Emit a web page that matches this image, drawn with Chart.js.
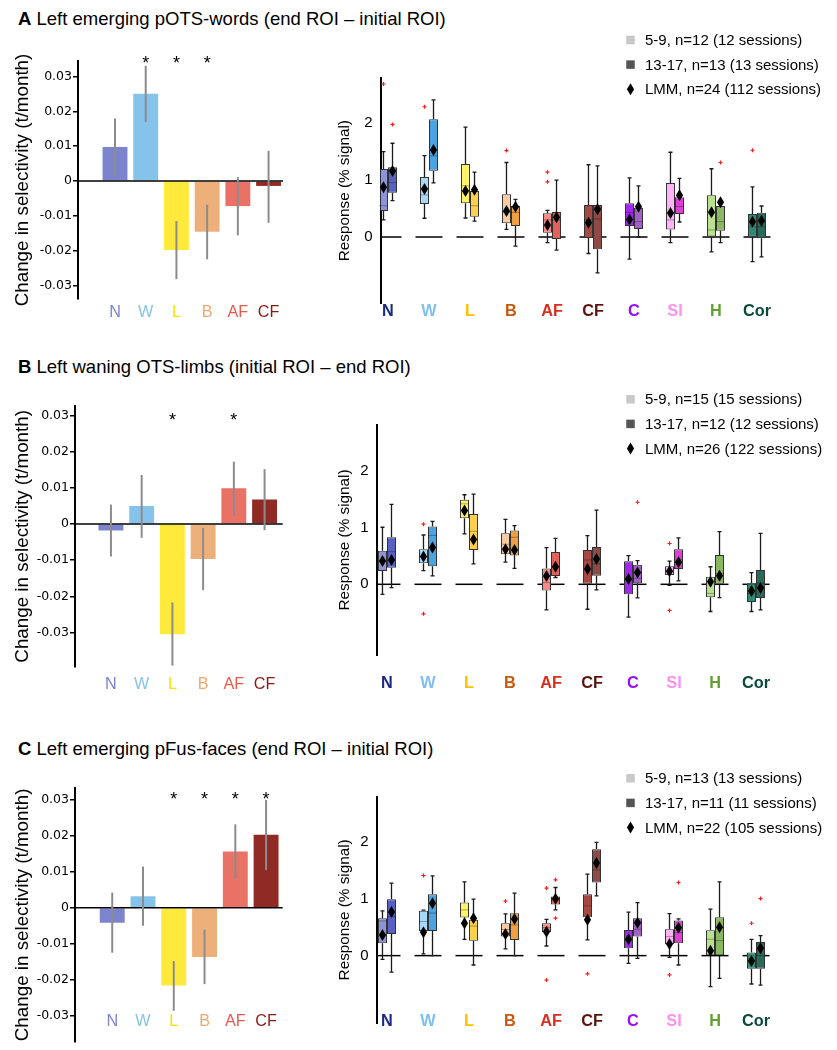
<!DOCTYPE html>
<html>
<head>
<meta charset="utf-8">
<title>Selectivity change and responses</title>
<script src="https://cdn.jsdelivr.net/npm/chart.js@4.4.1/dist/chart.umd.min.js"></script>
<style>
  body { margin: 0; background: #fff; }
  #page { position: relative; width: 837px; height: 1050px; overflow: hidden; font-family: "Liberation Sans", Arial, sans-serif; }
  .title { position: absolute; left: 18px; font-size: 18.5px; line-height: 22px; color: #000; white-space: nowrap; }
  canvas { position: absolute; }
</style>
</head>
<body>
<div id="page">
  <div class="title" style="top:8px"><b>A</b> Left emerging pOTS-words (end ROI – initial ROI)</div>
  <div class="title" style="top:356px"><b>B</b> Left waning OTS-limbs (initial ROI – end ROI)</div>
  <div class="title" style="top:738px"><b>C</b> Left emerging pFus-faces (end ROI – initial ROI)</div>
  <canvas id="barA"></canvas>
  <canvas id="boxA"></canvas>
  <canvas id="barB"></canvas>
  <canvas id="boxB"></canvas>
  <canvas id="barC"></canvas>
  <canvas id="boxC"></canvas>
</div>
<script>
// categories
const barCats = ["N", "W", "L", "B", "AF", "CF"];
const boxCats = ["N", "W", "L", "B", "AF", "CF", "C", "SI", "H", "Cor"];

// panel A - change in selectivity (t/month) with error range
const aSlope = [0.0098, 0.0251, -0.0198, -0.0146, -0.0072, -0.0014];
const aErrLo = [0.0012, 0.0170, -0.0282, -0.0225, -0.0156, -0.0120];
const aErrHi = [0.0180, 0.0331, -0.0115, -0.0068, 0.0011, 0.0087];
const aSig = [0, 1, 1, 1, 0, 0];
// boxes: [whisker low, q1, median, q3, whisker high]
const aYoung = [[0.30, 0.457, 0.55, 1.197, 1.50], [0.33, 0.58, 0.74, 1.056, 1.43], [0.334, 0.592, 0.90, 1.284, 1.93], [0.135, 0.24, 0.43, 0.75, 1.31], [-0.10, 0.076, 0.30, 0.416, 0.47],
  [-0.29, -0.018, 0.30, 0.563, 1.27], [-0.39, 0.194, 0.43, 0.592, 1.04], [-0.10, 0.13, 0.30, 0.95, 1.49], [-0.26, 0, 0.123, 0.733, 1.20], [-0.434, 0, 0.18, 0.405, 0.88]];
const aOld = [[0.64, 0.78, 0.956, 1.226, 1.648], [0.95, 1.167, 1.425, 2.07, 2.41], [0.28, 0.358, 0.55, 0.81, 1.14], [-0.16, 0.194, 0.43, 0.55, 0.66], [-0.23, -0.035, 0.30, 0.44, 1.0],
  [-0.63, -0.217, 0.317, 0.563, 1.25], [0, 0.14, 0.27, 0.516, 0.90], [0.264, 0.405, 0.534, 0.70, 1.03], [-0.10, 0.111, 0.27, 0.545, 0.60], [-0.35, -0.023, 0.18, 0.428, 0.545]];
const aYoungLmm = [0.874, 0.845, 0.81, 0.457, 0.21, 0.25, 0.31, 0.42, 0.434, 0.27];
const aOldLmm = [1.16, 1.53, 0.83, 0.53, 0.346, 0.487, 0.534, 0.733, 0.61, 0.287];
const aYoungOut = [[2.69], [2.29], [], [1.52], [1.14, 0.97], [], [], [], [], [1.525]];
const aOldOut = [[1.98], [], [], [], [], [], [], [], [1.31], []];
const aLegend = ["5-9, n=12 (12 sessions)", "13-17, n=13 (13 sessions)", "LMM, n=24 (112 sessions)"];

// panel B
const bSlope = [-0.0018, 0.0050, -0.0305, -0.0097, 0.0099, 0.0068];
const bErrLo = [-0.0090, -0.0038, -0.0392, -0.0183, 0.0023, -0.0017];
const bErrHi = [0.0054, 0.0136, -0.0217, -0.0011, 0.0173, 0.0152];
const bSig = [0, 0, 1, 0, 1, 0];
const bYoung = [[-0.176, 0.235, 0.41, 0.594, 1.006], [0.24, 0.37, 0.49, 0.618, 0.87], [0.89, 1.165, 1.42, 1.49, 1.58], [0.39, 0.53, 0.706, 0.90, 1.147], [-0.45, -0.11, 0.03, 0.28, 0.647],
  [-0.44, 0, 0.43, 0.606, 0.86], [-0.58, -0.176, 0.08, 0.406, 0.506], [-0.02, 0.165, 0.24, 0.318, 0.41], [-0.48, -0.23, -0.16, 0.135, 0.31], [-0.48, -0.31, -0.16, 0.018, 0.206]];
const bOld = [[-0.06, 0.294, 0.576, 0.83, 1.41], [0.15, 0.32, 0.86, 1.02, 1.11], [0.36, 0.606, 0.935, 1.24, 1.59], [0.28, 0.506, 0.83, 0.947, 1.035], [0.12, 0.147, 0.31, 0.57, 0.81],
  [-0.10, 0.153, 0.36, 0.66, 1.31], [-0.24, 0.018, 0.106, 0.347, 0.418], [0.06, 0.27, 0.43, 0.618, 0.82], [-0.235, 0, 0.19, 0.518, 0.93], [-0.45, -0.24, 0.02, 0.253, 0.90]];
const bYoungLmm = [0.41, 0.49, 1.30, 0.62, 0.147, 0.27, 0.094, 0.23, 0.047, -0.12];
const bOldLmm = [0.43, 0.65, 0.79, 0.606, 0.31, 0.447, 0.21, 0.39, 0.153, -0.065];
const bYoungOut = [[], [1.06, -0.52], [], [], [], [], [], [0.72, -0.46], [], []];
const bOldOut = [[], [], [], [], [], [], [1.447], [], [], []];
const bLegend = ["5-9, n=15 (15 sessions)", "13-17, n=12 (12 sessions)", "LMM, n=26 (122 sessions)"];

// panel C
const cSlope = [-0.0042, 0.0032, -0.0216, -0.0137, 0.0156, 0.0202];
const cErrLo = [-0.0125, -0.0050, -0.0286, -0.0212, 0.0080, 0.0104];
const cErrHi = [0.0042, 0.0114, -0.0148, -0.0061, 0.0231, 0.0299];
const cSig = [0, 0, 1, 1, 1, 1];
const cYoung = [[-0.065, 0.218, 0.61, 0.66, 0.79], [0.03, 0.435, 0.60, 0.79, 0.80], [0.288, 0.67, 0.806, 0.935, 1.30], [0.118, 0.335, 0.46, 0.57, 0.735], [0.17, 0.41, 0.494, 0.57, 0.64],
  [0.276, 0.676, 0.876, 1.08, 1.435], [-0.135, 0.13, 0.276, 0.453, 0.765], [-0.03, 0.20, 0.335, 0.465, 0.74], [-0.547, 0, 0.288, 0.447, 0.818], [-0.50, -0.23, -0.08, 0.053, 0.288]];
const cOld = [[-0.29, 0.38, 0.69, 0.994, 1.276], [0, 0.435, 0.75, 1.08, 1.406], [-0.165, 0.26, 0.52, 0.63, 0.994], [0, 0.276, 0.54, 0.747, 1.10], [0.806, 0.90, 0.98, 1.04, 1.20],
  [1.053, 1.288, 1.51, 1.876, 1.994], [-0.047, 0.335, 0.465, 0.66, 0.935], [-0.165, 0.218, 0.406, 0.62, 0.647], [-0.40, 0, 0.265, 0.676, 1.30], [-0.52, -0.23, 0, 0.24, 0.353]];
const cYoungLmm = [0.365, 0.41, 0.57, 0.38, 0.42, 0.63, 0.288, 0.206, 0.088, -0.094];
const cOldLmm = [0.77, 0.923, 0.66, 0.647, 1.0, 1.63, 0.58, 0.49, 0.50, 0.13];
const cYoungOut = [[], [1.41], [], [0.96], [1.19, -0.43], [-0.32], [], [-0.34], [], [0.57]];
const cOldOut = [[], [], [], [], [1.335, 0.66], [], [], [1.288], [], [1.006]];
const cLegend = ["5-9, n=13 (13 sessions)", "13-17, n=11 (11 sessions)", "LMM, n=22 (105 sessions)"];

// colours
const barColors = ["#7b84cc", "#86c3ea", "#ffe93b", "#eeb07a", "#ea7165", "#8f2a24"];
const barLabelColors = ["#7b84cc", "#86c3ea", "#ffe000", "#f0a870", "#e85a50", "#8a1a12"];
const youngColors = ["#8e94d6", "#a9d8f6", "#fff266", "#f9cba0", "#f58b84", "#a54a43", "#a228f0", "#ffb2f8", "#b8e08e", "#2d8a78"];
const oldColors = ["#5861c2", "#4ba3e0", "#fbd04c", "#f0a044", "#e0625a", "#8e4a44", "#a261c4", "#de40d6", "#8ab862", "#2a6a5a"];
const boxLabelColors = ["#1a2a80", "#80c0f0", "#ffc000", "#c85a10", "#d83020", "#5a1510", "#9a10f0", "#ff90f0", "#60a030", "#0a4a3a"];

// error bars, stars and zero line for the left charts
const errorBars = {
  id: "errorBars",
  afterDatasetsDraw(chart, args, opts) {
    const { ctx, chartArea } = chart;
    const y = chart.scales.y;
    const ds = chart.data.datasets[0];
    const meta = chart.getDatasetMeta(0);
    ctx.save();
    const y0 = y.getPixelForValue(0);
    ctx.strokeStyle = "#000";
    ctx.lineWidth = 1.5;
    ctx.beginPath();
    ctx.moveTo(chartArea.left, y0);
    ctx.lineTo(chartArea.right, y0);
    ctx.stroke();
    ctx.strokeStyle = "#8c8c8c";
    ctx.lineWidth = 2;
    meta.data.forEach((bar, i) => {
      ctx.beginPath();
      ctx.moveTo(bar.x, y.getPixelForValue(ds.errLo[i]));
      ctx.lineTo(bar.x, y.getPixelForValue(ds.errHi[i]));
      ctx.stroke();
    });
    ctx.fillStyle = "#000";
    ctx.font = '18px "Liberation Sans"';
    ctx.textAlign = "center";
    ctx.textBaseline = "alphabetic";
    meta.data.forEach((bar, i) => {
      if (ds.sig[i]) ctx.fillText("*", bar.x, y.getPixelForValue(opts.star) + 10.5);
    });
    ctx.restore();
  }
};

// whiskers, medians, outliers, LMM estimates and legend for the box charts
const boxParts = {
  id: "boxParts",
  beforeDatasetsDraw(chart) {
    const { ctx, chartArea, scales: { x, y } } = chart;
    ctx.save();
    const y0 = y.getPixelForValue(0);
    ctx.strokeStyle = "#000";
    ctx.lineWidth = 1.5;
    boxCats.forEach((c, i) => {
      const xc = x.getPixelForValue(i);
      ctx.beginPath();
      ctx.moveTo(Math.max(xc - 13.5, chartArea.left), y0);
      ctx.lineTo(xc + 13.5, y0);
      ctx.stroke();
    });
    ctx.strokeStyle = "#1a1a1a";
    ctx.lineWidth = 1.3;
    chart.data.datasets.forEach((ds, d) => {
      chart.getDatasetMeta(d).data.forEach((el, i) => {
        const s = ds.stats[i];
        ctx.beginPath();
        ctx.moveTo(el.x, y.getPixelForValue(s[0]));
        ctx.lineTo(el.x, y.getPixelForValue(s[1]));
        ctx.moveTo(el.x, y.getPixelForValue(s[3]));
        ctx.lineTo(el.x, y.getPixelForValue(s[4]));
        [s[0], s[4]].forEach(v => {
          const yy = y.getPixelForValue(v);
          ctx.moveTo(el.x - 2, yy);
          ctx.lineTo(el.x + 2, yy);
        });
        ctx.stroke();
      });
    });
    ctx.restore();
  },
  afterDatasetsDraw(chart) {
    const { ctx, scales: { y } } = chart;
    ctx.save();
    chart.data.datasets.forEach((ds, d) => {
      chart.getDatasetMeta(d).data.forEach((el, i) => {
        const s = ds.stats[i];
        const ym = y.getPixelForValue(s[2]);
        ctx.strokeStyle = "rgba(0,0,0,0.3)";
        ctx.lineWidth = 1;
        ctx.beginPath();
        ctx.moveTo(el.x - el.width / 2, ym);
        ctx.lineTo(el.x + el.width / 2, ym);
        ctx.stroke();
        ctx.strokeStyle = "#ff1a1a";
        ctx.lineWidth = 1.2;
        ds.out[i].forEach(v => {
          const yo = y.getPixelForValue(v);
          ctx.beginPath();
          ctx.moveTo(el.x - 2, yo); ctx.lineTo(el.x + 2, yo);
          ctx.moveTo(el.x, yo - 2); ctx.lineTo(el.x, yo + 2);
          ctx.stroke();
        });
        const yl = y.getPixelForValue(ds.lmm[i]);
        ctx.fillStyle = "#000";
        ctx.beginPath();
        ctx.moveTo(el.x, yl - 6);
        ctx.lineTo(el.x + 3.6, yl);
        ctx.lineTo(el.x, yl + 6);
        ctx.lineTo(el.x - 3.6, yl);
        ctx.closePath();
        ctx.fill();
      });
    });
    ctx.restore();
  },
  afterDraw(chart, args, opts) {
    const ctx = chart.ctx;
    ctx.save();
    ctx.font = '15px "Liberation Sans"';
    ctx.textAlign = "left";
    ctx.textBaseline = "middle";
    opts.text.forEach((t, k) => {
      const yy = opts.top + k * opts.gap;
      if (k < 2) {
        ctx.fillStyle = k === 0 ? "#c8c8c8" : "#555555";
        ctx.fillRect(opts.mark - 4.25, yy - 4.25, 8.5, 8.5);
      } else {
        ctx.fillStyle = "#000";
        ctx.beginPath();
        ctx.moveTo(opts.mark, yy - 6);
        ctx.lineTo(opts.mark + 3.6, yy);
        ctx.lineTo(opts.mark, yy + 6);
        ctx.lineTo(opts.mark - 3.6, yy);
        ctx.closePath();
        ctx.fill();
      }
      ctx.fillStyle = "#000";
      ctx.fillText(t, opts.textX, yy + 1);
    });
    ctx.restore();
  }
};

function setCanvas(id, box) {
  const cv = document.getElementById(id);
  cv.width = box[2];
  cv.height = box[3];
  cv.style.left = box[0] + "px";
  cv.style.top = box[1] + "px";
  return cv;
}

// box = canvas [left, top, w, h], plot = chart area [left, top, right, bottom] in page pixels
// mirror puts the category names inside the plot, just above its bottom edge (panel C)
function barChart(id, box, plot, slope, lo, hi, sig, o) {
  const cv = setCanvas(id, box);
  return new Chart(cv, {
    type: "bar",
    data: {
      datasets: [{
        data: slope.map((v, i) => ({ x: i, y: v })),
        errLo: lo, errHi: hi, sig: sig,
        backgroundColor: barColors,
        borderWidth: 0,
        categoryPercentage: 1,
        barPercentage: 0.81
      }]
    },
    options: {
      responsive: false,
      animation: false,
      layout: { padding: { left: 0, top: plot[1] - box[1], right: box[0] + box[2] - plot[2], bottom: 0 } },
      plugins: { legend: { display: false }, tooltip: { enabled: false }, errorBars: { star: o.star } },
      scales: {
        x: {
          type: "linear", offset: false, min: o.xMin, max: o.xMax,
          afterBuildTicks: s => { s.ticks = barCats.map((c, i) => ({ value: i })); },
          afterFit: s => { s.height = box[1] + box[3] - plot[3]; },
          border: { display: false },
          grid: { display: false, drawTicks: false },
          ticks: {
            autoSkip: false, maxRotation: 0, padding: o.labelPad, mirror: !!o.mirror,
            color: c => barLabelColors[c.index],
            font: { family: "Liberation Sans", size: 16.2 },
            callback: v => barCats[v]
          }
        },
        y: {
          min: o.yMin, max: o.yMax,
          afterFit: s => { s.width = plot[0] - box[0]; },
          border: { color: "#000", width: 2 },
          grid: { drawOnChartArea: false, color: "#000", lineWidth: 1.5, tickLength: 5 },
          ticks: {
            stepSize: 0.01, includeBounds: false, padding: 1, color: "#000",
            font: { family: "DejaVu Sans", size: 12.5 },
            callback: v => String(Math.round(v * 100) / 100)
          },
          title: {
            display: true, text: "Change in selectivity (t/month)", color: "#000",
            font: { family: "Liberation Sans", size: 18.8 }, padding: { top: 12, bottom: 0 }
          }
        }
      }
    },
    plugins: [errorBars]
  });
}

function boxChart(id, box, plot, young, old, youngLmm, oldLmm, youngOut, oldOut, legendText, o) {
  const cv = setCanvas(id, box);
  const common = { borderColor: "#333", borderWidth: 1, borderSkipped: false, categoryPercentage: 0.44, barPercentage: 1 };
  return new Chart(cv, {
    type: "bar",
    data: {
      datasets: [
        Object.assign({ label: legendText[0], data: young.map((s, i) => ({ x: i, y: [s[1], s[3]] })),
          stats: young, lmm: youngLmm, out: youngOut, backgroundColor: youngColors }, common),
        Object.assign({ label: legendText[1], data: old.map((s, i) => ({ x: i, y: [s[1], s[3]] })),
          stats: old, lmm: oldLmm, out: oldOut, backgroundColor: oldColors }, common)
      ]
    },
    options: {
      responsive: false,
      animation: false,
      layout: { padding: { left: 0, top: plot[1] - box[1], right: box[0] + box[2] - plot[2], bottom: 0 } },
      plugins: {
        legend: { display: false }, tooltip: { enabled: false },
        boxParts: { text: legendText, mark: 300.5, textX: 315, top: o.legendTop, gap: 24.6 }
      },
      scales: {
        x: {
          type: "linear", offset: false, min: o.xMin, max: o.xMax,
          afterBuildTicks: s => { s.ticks = boxCats.map((c, i) => ({ value: i })); },
          afterFit: s => { s.height = box[1] + box[3] - plot[3]; },
          border: { display: false },
          grid: { display: false, drawTicks: false },
          ticks: {
            autoSkip: false, maxRotation: 0, padding: o.labelPad, mirror: !!o.mirror,
            color: c => boxLabelColors[c.index],
            font: { family: "Liberation Sans", size: 16.3, weight: "bold" },
            callback: v => boxCats[v]
          }
        },
        y: {
          min: o.yMin, max: o.yMax,
          afterFit: s => { s.width = plot[0] - box[0]; },
          border: { color: "#000", width: 2 },
          grid: { drawOnChartArea: false, drawTicks: false },
          ticks: {
            stepSize: 1, includeBounds: false, padding: 8, color: "#000",
            font: { family: "Liberation Sans", size: 15 },
            callback: v => (v >= 0 ? String(v) : "")
          },
          title: {
            display: true, text: "Response (% signal)", color: "#000",
            font: { family: "Liberation Sans", size: 15.3 }, padding: { top: 6, bottom: 0 }
          }
        }
      }
    },
    plugins: [boxParts]
  });
}

barChart("barA", [0, 30, 300, 305], [78, 61, 283, 299], aSlope, aErrLo, aErrHi, aSig,
  { xMin: -1.205, xMax: 5.47, yMin: -0.0339, yMax: 0.0345, labelPad: 3.4, star: 0.0353 });
barChart("barB", [0, 385, 300, 320], [75, 405.7, 282.7, 667], bSlope, bErrLo, bErrHi, bSig,
  { xMin: -1.17, xMax: 5.59, yMin: -0.0396, yMax: 0.0328, labelPad: 7.4, star: 0.0302 });
barChart("barC", [0, 765, 300, 285], [75, 788.3, 282.7, 1041.7], cSlope, cErrLo, cErrHi, cSig,
  { xMin: -1.21, xMax: 5.54, yMin: -0.0371, yMax: 0.0331, labelPad: 10.4, mirror: true, star: 0.0314 });

boxChart("boxA", [330, 28, 507, 305], [380.7, 78.3, 772, 303], aYoung, aOld, aYoungLmm, aOldLmm, aYoungOut, aOldOut, aLegend,
  { xMin: -0.178, xMax: 9.366, yMin: -1.16, yMax: 2.79, labelPad: -0.9, legendTop: 12 });
boxChart("boxB", [330, 385, 507, 320], [376.7, 425, 772, 655], bYoung, bOld, bYoungLmm, bOldLmm, bYoungOut, bOldOut, bLegend,
  { xMin: -0.251, xMax: 9.39, yMin: -1.247, yMax: 2.81, labelPad: 18.4, legendTop: 14.3 });
boxChart("boxC", [330, 765, 507, 285], [376.7, 796.7, 772, 1023], cYoung, cOld, cYoungLmm, cOldLmm, cYoungOut, cOldOut, cLegend,
  { xMin: -0.251, xMax: 9.39, yMin: -1.187, yMax: 2.80, labelPad: -8.3, mirror: true, legendTop: 13.3 });
</script>
</body>
</html>
